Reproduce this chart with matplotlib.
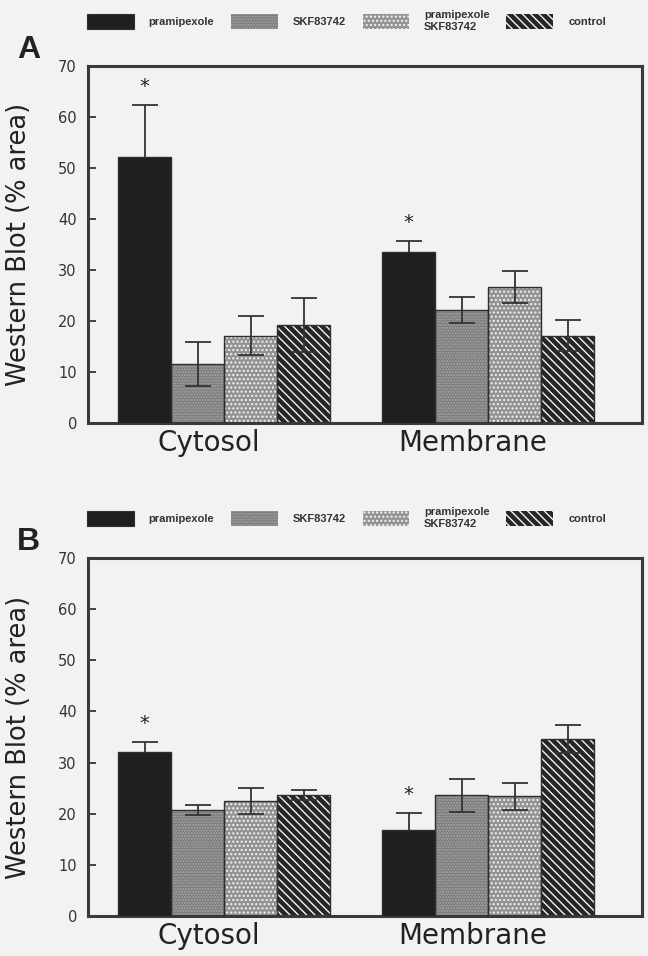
import matplotlib
matplotlib.use("Agg")
import matplotlib.pyplot as plt
import numpy as np
from matplotlib.patches import Patch

# ---- data ----
groups = ["Cytosol", "Membrane"]
series = ["pramipexole", "SKF83742", "pramipexole\nSKF83742", "control"]

a_means = {"pramipexole": [52.2, 33.5],
           "SKF83742": [11.6, 22.2],
           "pramipexole\nSKF83742": [17.1, 26.7],
           "control": [19.2, 17.1]}
a_errs = {"pramipexole": [10.2, 2.2],
          "SKF83742": [4.3, 2.6],
          "pramipexole\nSKF83742": [3.8, 3.1],
          "control": [5.3, 3.0]}
a_stars = [[1, 1], [0, 0], [0, 0], [0, 0]]  # per series, per group

b_means = {"pramipexole": [32.0, 16.9],
           "SKF83742": [20.7, 23.6],
           "pramipexole\nSKF83742": [22.5, 23.4],
           "control": [23.6, 34.6]}
b_errs = {"pramipexole": [2.1, 3.3],
          "SKF83742": [1.0, 3.2],
          "pramipexole\nSKF83742": [2.5, 2.7],
          "control": [1.0, 2.7]}
b_stars = [[1, 1], [0, 0], [0, 0], [0, 0]]

yticks = [0, 10, 20, 30, 40, 50, 60, 70]
ylabel = "Western Blot (% area)"

# ---- style ----
BG = "#f2f2f0"
EDGE = "#2e2e2e"
styles = {
    "pramipexole": dict(face="#1f1f1f", hatch=None, hcol=None),
    "SKF83742": dict(face="#7c7c7c", hatch="......", hcol="#a6a6a6"),
    "pramipexole\nSKF83742": dict(face="#939393", hatch="....", hcol="#f4f4f4"),
    "control": dict(face="#262626", hatch="\\\\\\\\", hcol="#f4f4f4"),
}

plt.rcParams["font.family"] = ["DejaVu Sans"]
plt.rcParams["hatch.linewidth"] = 1.0

fig = plt.figure(figsize=(6.48, 9.56), dpi=100, facecolor=BG)

W = 1.0
group_starts = [0.57, 5.55]


def draw_panel(ax, means, errs, stars, letter, legend_y):
    ax.set_facecolor(BG)
    for si, s in enumerate(series):
        xs = np.array(group_starts) + si * W + W / 2
        st = styles[s]
        if st["hatch"]:
            ax.bar(xs, means[s], width=W, color=st["face"], edgecolor=st["hcol"],
                   hatch=st["hatch"], linewidth=0, zorder=2)
            ax.bar(xs, means[s], width=W, fill=False, edgecolor=EDGE,
                   linewidth=1.0, zorder=3)
            ez = 4
        else:
            ax.bar(xs, means[s], width=W, color=st["face"], edgecolor=EDGE,
                   linewidth=1.0, zorder=3)
            ez = 1
        ax.errorbar(xs, means[s], yerr=errs[s], fmt="none", ecolor="#333333",
                    elinewidth=1.3, capsize=9.5, capthick=1.3, zorder=ez)
        for gi in range(len(groups)):
            if stars[si][gi]:
                ax.text(xs[gi], means[s][gi] + errs[s][gi] + 3.6, "*",
                        ha="center", va="center", fontsize=14, color="#222222",
                        zorder=5)
    ax.set_xlim(0, 10.45)
    ax.set_ylim(0, 70)
    ax.set_yticks(yticks)
    ax.tick_params(axis="y", direction="in", length=6, width=1.3, colors="#333333",
                   labelsize=10.5, pad=8, labelcolor="#333333")
    centers = [g + 2 * W - 0.3 for g in group_starts]
    ax.set_xticks(centers)
    ax.set_xticklabels(groups, fontsize=20, color="#222222")
    ax.tick_params(axis="x", length=0, pad=4)
    for sp in ax.spines.values():
        sp.set_linewidth(2.2)
        sp.set_color("#3a3a3a")
    ax.set_ylabel(ylabel, fontsize=18.5, color="#222222")
    ax.yaxis.set_label_coords(-0.101, 0.5)
    ax.text(-0.128, 1.0 + 0.044, letter, transform=ax.transAxes, fontsize=23,
            fontweight="bold", family="Liberation Sans", color="#222222",
            ha="left", va="center")
    handles = []
    for s in series:
        st = styles[s]
        if st["hatch"]:
            handles.append(Patch(facecolor=st["face"], edgecolor=st["hcol"],
                                 hatch=st["hatch"], linewidth=0))
        else:
            handles.append(Patch(facecolor=st["face"], edgecolor=EDGE, linewidth=0.8))
    leg = fig.legend(handles, series, loc="upper left",
                     bbox_to_anchor=(87 / 648, legend_y), ncol=4, frameon=False,
                     prop=dict(family="Liberation Sans", weight="bold", size=8),
                     handlelength=4.2, handleheight=1.7, handletextpad=1.35,
                     columnspacing=1.5, borderpad=0, borderaxespad=0)
    for t in leg.get_texts():
        t.set_color("#333333")


axA = fig.add_axes([88 / 648, 1 - 423 / 956, 554 / 648, 357 / 956])
draw_panel(axA, a_means, a_errs, a_stars, "A", 1 - 10 / 956)
axB = fig.add_axes([88 / 648, 1 - 916 / 956, 554 / 648, 358 / 956])
draw_panel(axB, b_means, b_errs, b_stars, "B", 1 - 507 / 956)

fig.savefig("out.png", dpi=100, facecolor=BG)
